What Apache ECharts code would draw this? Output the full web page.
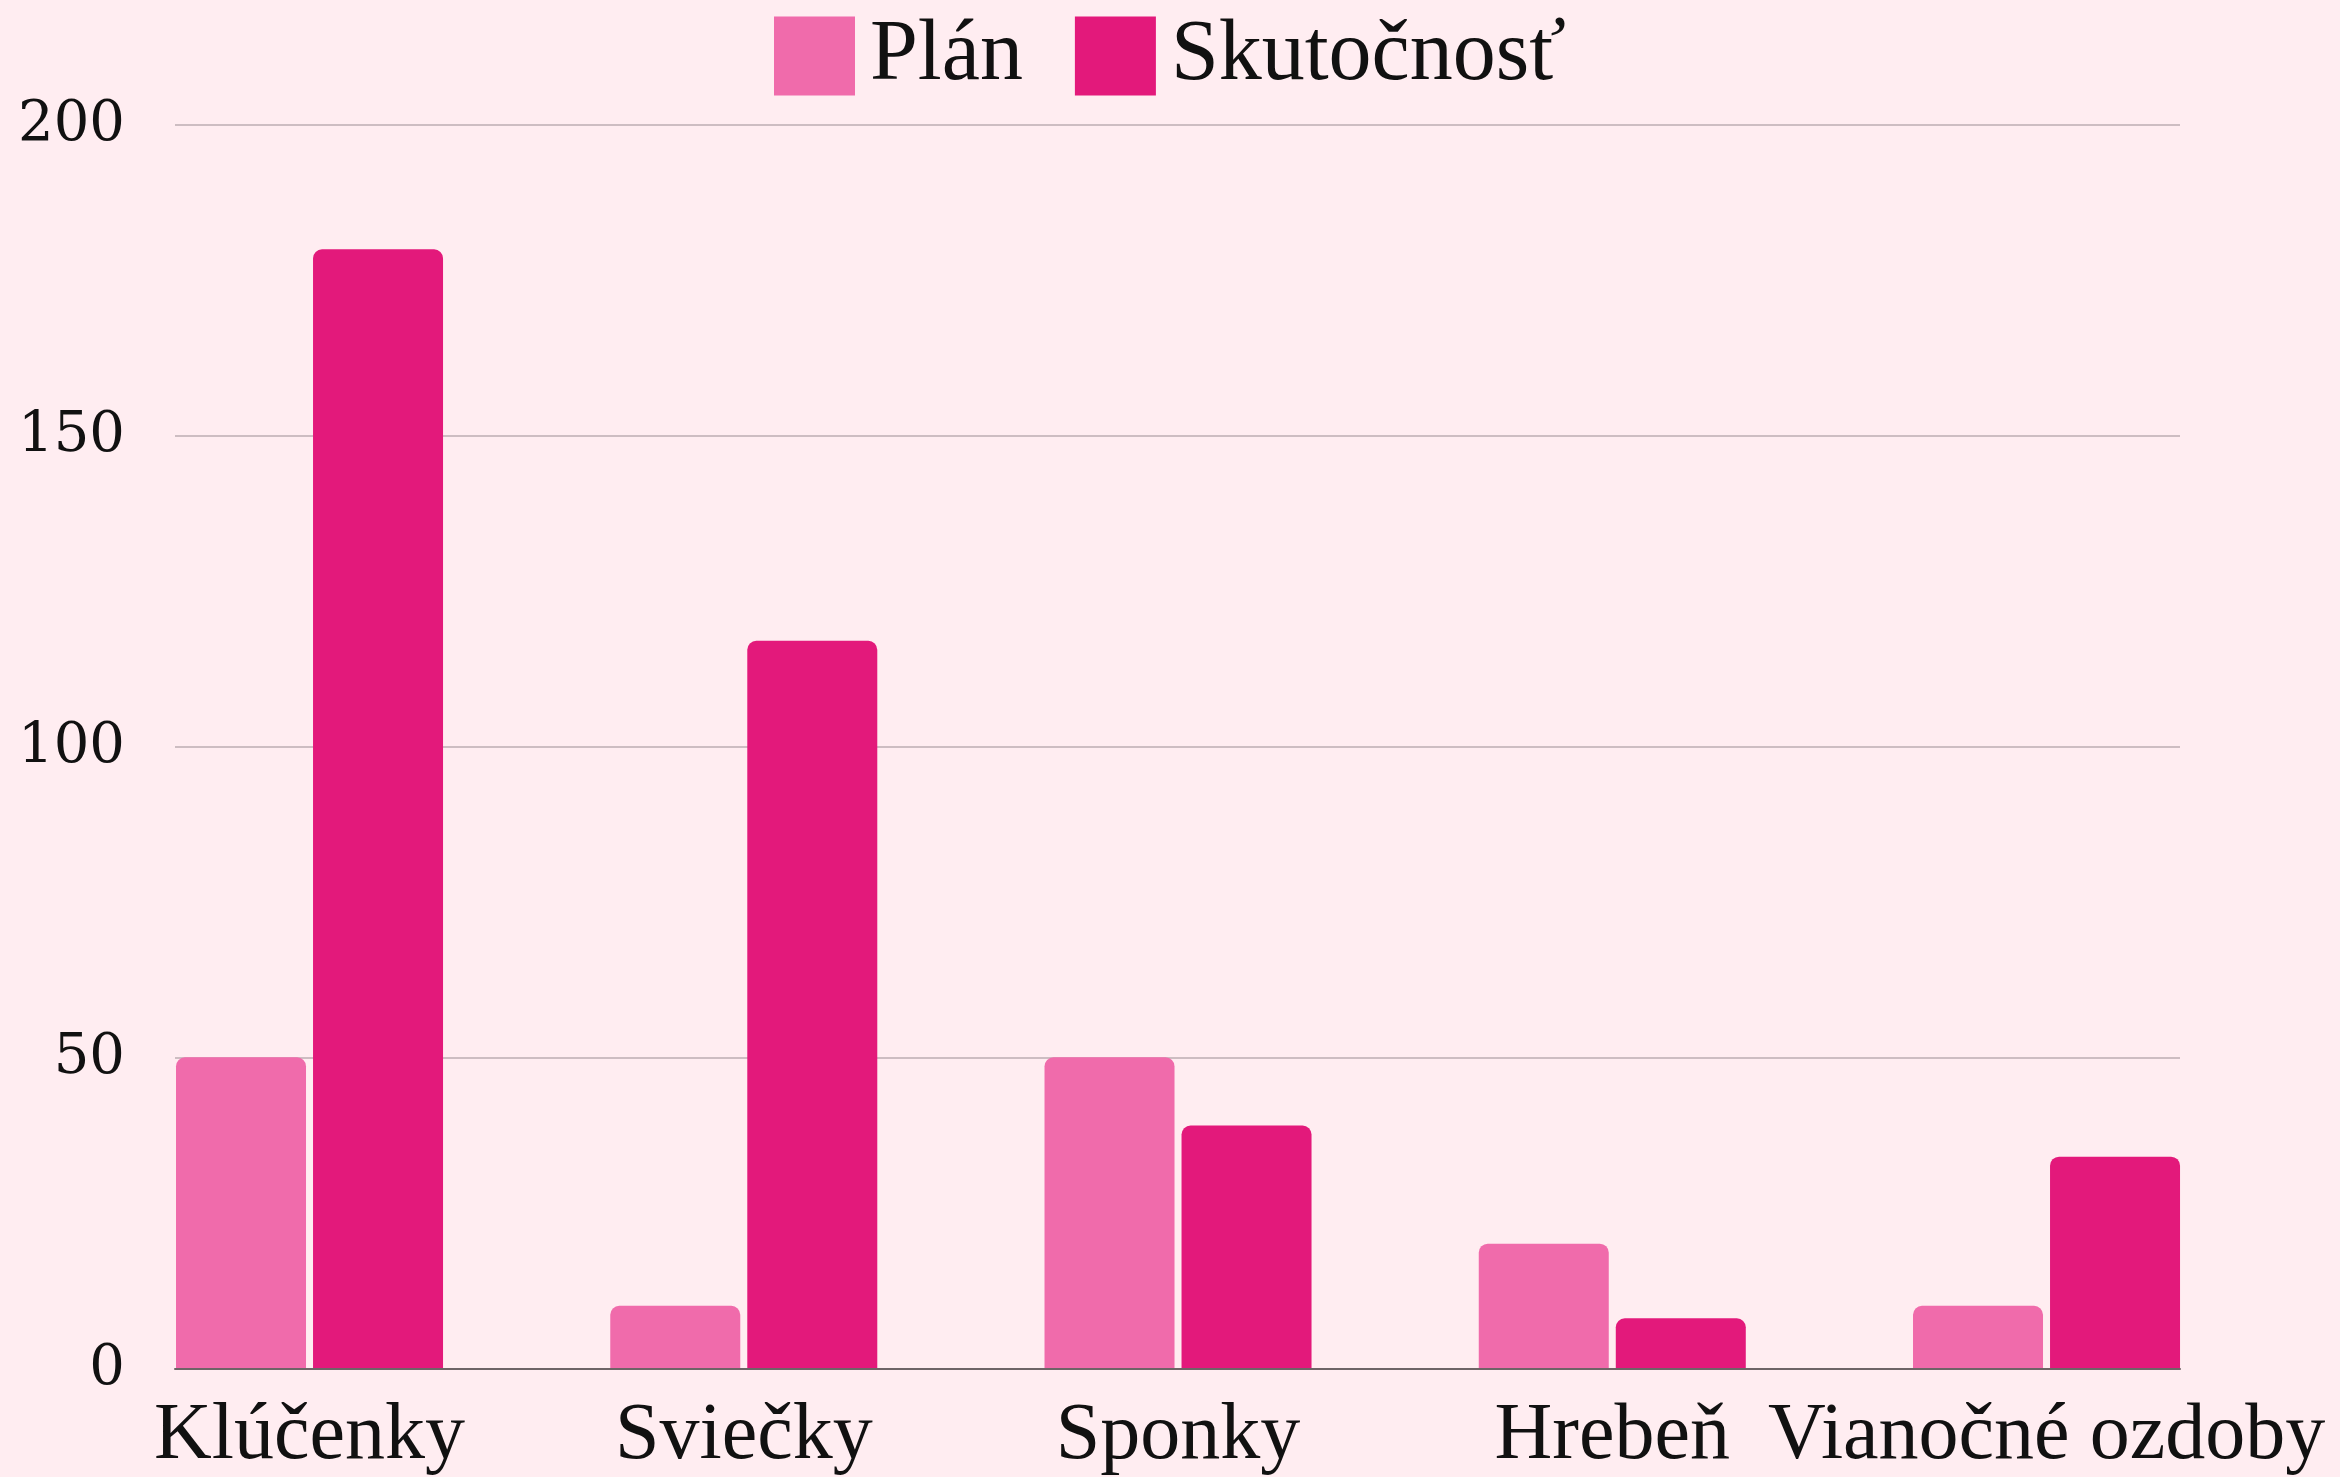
<!DOCTYPE html>
<html>
<head>
<meta charset="utf-8">
<style>
html,body{margin:0;padding:0;background:#FFEDF1;}
#chart{width:2340px;height:1477px;}
</style>
<script src="https://cdn.jsdelivr.net/npm/echarts@6/dist/echarts.min.js"></script>
</head>
<body>
<div id="chart"></div>
<script>
const categories = ['Klúčenky', 'Sviečky', 'Sponky', 'Hrebeň', 'Vianočné ozdoby'];
const planValues = [50, 10, 50, 20, 10];
const actualValues = [180, 117, 39, 8, 34];
const seriesNames = ['Plán', 'Skutočnosť'];
const yTicks = [0, 50, 100, 150, 200];

const chart = echarts.init(document.getElementById('chart'));
const gridTop = 125, gridBottom = 108;
chart.setOption({
  backgroundColor: '#FFEDF1',
  animation: false,
  legend: {
    data: seriesNames,
    top: 8,
    left: 'center',
    itemWidth: 81,
    itemHeight: 79,
    itemGap: 52,
    icon: 'rect',
    textStyle: { fontFamily: 'Liberation Serif', fontSize: 86, color: '#111', padding: [0, 0, 0, 10] }
  },
  grid: [
    { left: 92.4, right: 2340 - 92.4 - 2171.25, top: gridTop, bottom: gridBottom },
    { left: 175, right: 160, top: gridTop, bottom: gridBottom }
  ],
  xAxis: [
    {
      type: 'category', gridIndex: 0, data: categories,
      axisLine: { show: false }, axisTick: { show: false },
      axisLabel: { interval: 0, fontFamily: 'Liberation Serif', fontSize: 80, color: '#111', margin: 29 }
    },
    {
      type: 'value', gridIndex: 1, min: 0, max: 1,
      axisLabel: { show: false }, axisTick: { show: false }, splitLine: { show: false },
      axisLine: { show: true, lineStyle: { color: '#6e6466', width: 2 } }
    }
  ],
  yAxis: [
    {
      type: 'value', gridIndex: 0, min: 0, max: 200, interval: 50,
      axisLabel: { show: false }, splitLine: { show: false }, axisLine: { show: false }, axisTick: { show: false }
    },
    {
      type: 'value', gridIndex: 1, min: yTicks[0], max: yTicks[yTicks.length - 1], interval: 50,
      axisLine: { show: false }, axisTick: { show: false },
      splitLine: { show: true, lineStyle: { color: '#CDBDC2', width: 2 } },
      axisLabel: { fontFamily: 'DejaVu Serif', fontSize: 56, color: '#111', margin: 50 }
    }
  ],
  series: [
    {
      name: seriesNames[0], type: 'bar', xAxisIndex: 0, yAxisIndex: 0,
      data: planValues, barWidth: 130, barGap: '5.4%',
      itemStyle: { color: '#F06BAB', borderRadius: [9, 9, 0, 0] }, z: 3
    },
    {
      name: seriesNames[1], type: 'bar', xAxisIndex: 0, yAxisIndex: 0,
      data: actualValues, barWidth: 130, barGap: '5.4%',
      itemStyle: { color: '#E3197B', borderRadius: [9, 9, 0, 0] }, z: 3
    },
    { type: 'line', xAxisIndex: 1, yAxisIndex: 1, data: [], silent: true }
  ]
});
</script>
</body>
</html>
